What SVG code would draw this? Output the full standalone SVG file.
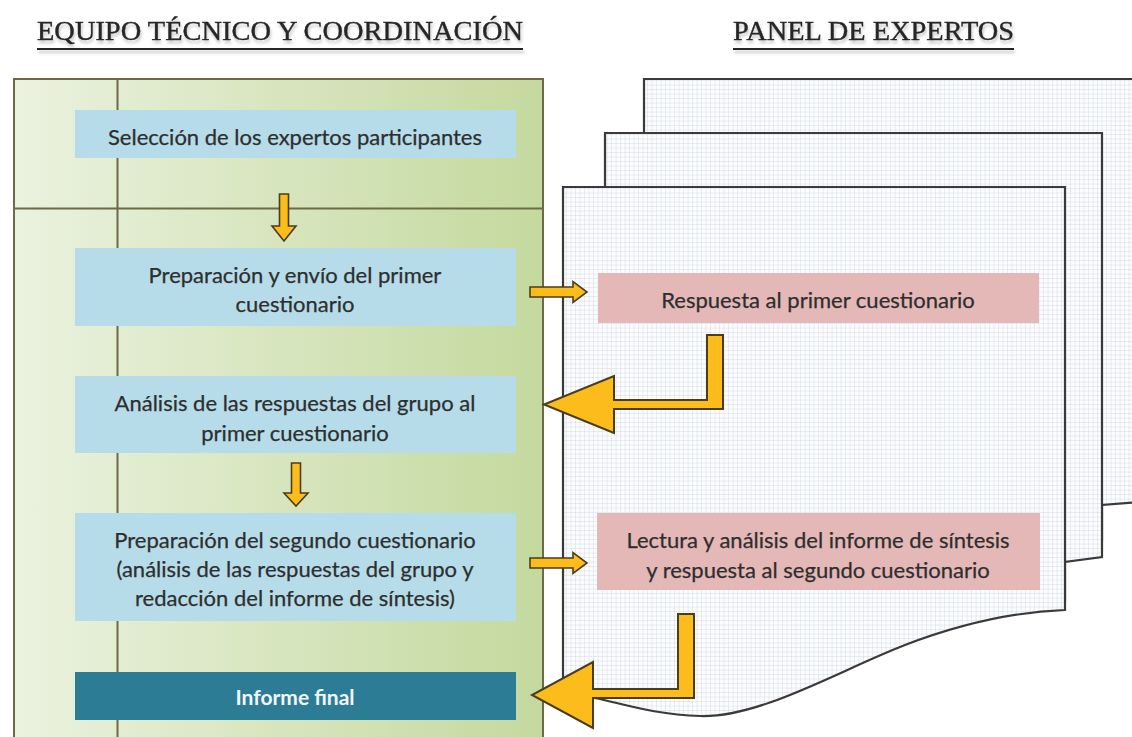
<svg xmlns="http://www.w3.org/2000/svg" width="1132" height="737" viewBox="0 0 1132 737">
<defs>
<linearGradient id="green" x1="0" y1="0" x2="1" y2="0">
<stop offset="0" stop-color="#ebf2df"/>
<stop offset="0.35" stop-color="#dde9c8"/>
<stop offset="1" stop-color="#c4d99e"/>
</linearGradient>
<pattern id="grid" width="4.5" height="4.5" patternUnits="userSpaceOnUse">
<rect width="4.5" height="4.5" fill="#fbfcfd"/>
<path d="M4.5 0V4.5M0 4.5H4.5" stroke="#cfd5dc" stroke-width="0.8" fill="none"/>
</pattern>
<filter id="shadow" x="-5%" y="-20%" width="110%" height="160%">
<feDropShadow dx="1" dy="3" stdDeviation="1.5" flood-color="#888" flood-opacity="0.5"/>
</filter>
</defs>
<style>
.title{font-family:"Liberation Serif",serif;font-size:27px;fill:#262626;stroke:#262626;stroke-width:0.4}
.ul{stroke:#262626;stroke-width:1.8}
.sheet{fill:url(#grid);stroke:#3a3a3a;stroke-width:2.2}
.blue{fill:#b5dce8}
.pink{fill:#e4b8b7}
.t{font-family:Lato,"Liberation Sans",sans-serif;font-size:22px;fill:#2e2e2e;text-anchor:middle;stroke:#2e2e2e;stroke-width:0.25}
.tw{font-family:Lato,"Liberation Sans",sans-serif;font-size:21px;font-weight:bold;fill:#f2f6f8;text-anchor:middle}
.arr{fill:#fbbc1c;stroke:#4a3d1c;stroke-width:2;stroke-linejoin:miter}
.arrs{fill:#fbbc1c;stroke:#4a3d1c;stroke-width:1.6}
.pl{stroke:#6d6a45;stroke-width:2;fill:none}
</style>

<g id="titles" filter="url(#shadow)">
<text class="title" x="37" y="40" textLength="486" lengthAdjust="spacingAndGlyphs">EQUIPO TÉCNICO Y COORDINACIÓN</text>
<line class="ul" x1="37" y1="49" x2="523" y2="49"/>
<text class="title" x="733" y="40" textLength="281" lengthAdjust="spacingAndGlyphs">PANEL DE EXPERTOS</text>
<line class="ul" x1="733" y1="49" x2="1014" y2="49"/>
</g>

<g id="panel-equipo">
<rect x="14" y="79" width="529" height="680" fill="url(#green)" stroke="#6d6a45" stroke-width="2"/>
<line class="pl" x1="117.5" y1="79" x2="117.5" y2="737"/>
<line class="pl" x1="14" y1="208.5" x2="543" y2="208.5"/>
</g>

<g id="panel-expertos">
<path class="sheet" d="M644,79 H1140 V502 L1102,505 V540 H644 Z"/>
<path class="sheet" d="M605,133 H1102 V557 L1065,562 V600 H605 Z"/>
<path class="sheet" d="M563,187 H1065 V610 C1010,612 960,624 905,645 C840,670 760,718 700,716 C660,715 630,706 600,699 L563,692 Z"/>
</g>

<g id="n1">
<rect class="blue" x="75" y="110" width="441" height="48"/>
<text class="t" x="295" y="145">Selección de los expertos participantes</text>
</g>
<g id="n2">
<rect class="blue" x="75" y="248" width="441" height="78"/>
<text class="t" x="295" y="283">Preparación y envío del primer</text>
<text class="t" x="295" y="312">cuestionario</text>
</g>
<g id="n3">
<rect class="blue" x="75" y="376" width="441" height="77"/>
<text class="t" x="295" y="411">Análisis de las respuestas del grupo al</text>
<text class="t" x="295" y="441">primer cuestionario</text>
</g>
<g id="n4">
<rect class="blue" x="75" y="513" width="441" height="108"/>
<text class="t" x="295" y="548">Preparación del segundo cuestionario</text>
<text class="t" x="295" y="577">(análisis de las respuestas del grupo y</text>
<text class="t" x="295" y="606">redacción del informe de síntesis)</text>
</g>
<g id="n5">
<rect x="75" y="672" width="441" height="48" fill="#2c7c96"/>
<text class="tw" x="295" y="705">Informe final</text>
</g>
<g id="p1">
<rect class="pink" x="598" y="273" width="441" height="50"/>
<text class="t" x="818" y="308">Respuesta al primer cuestionario</text>
</g>
<g id="p2">
<rect class="pink" x="597" y="513" width="443" height="77"/>
<text class="t" x="818" y="548">Lectura y análisis del informe de síntesis</text>
<text class="t" x="818" y="578">y respuesta al segundo cuestionario</text>
</g>

<g id="connectors">
<path class="arrs" d="M279.5,194 H288.5 V226 H296 L284,241 L272,226 H279.5 Z"/>
<path class="arrs" d="M291.5,463 H300.5 V493 H308 L296,506 L284,493 H291.5 Z"/>
<path class="arrs" d="M530,287 H573 V281.5 L587,292 L573,302.5 V297 H530 Z"/>
<path class="arrs" d="M530,558 H573 V552.5 L587,563 L573,573.5 V568 H530 Z"/>
<path class="arr" d="M707,335 H723 V409 H614 V433 L544,404.5 L614,376 V400 H707 Z"/>
<path class="arr" d="M678,614 H694 V698 H593 V728 L532,695 L593,662 V689 H678 Z"/>
</g>
</svg>
